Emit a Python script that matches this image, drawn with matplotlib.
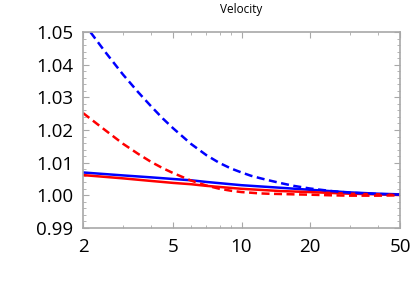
import matplotlib
matplotlib.use("Agg")
import matplotlib.pyplot as plt
from matplotlib.ticker import FixedLocator, MultipleLocator, NullFormatter

title = "Velocity"
x_ticks = [2, 5, 10, 20, 50]
x_tick_labels = ["2", "5", "10", "20", "50"]
y_ticks = [0.99, 1.00, 1.01, 1.02, 1.03, 1.04, 1.05]
y_tick_labels = ["0.99", "1.00", "1.01", "1.02", "1.03", "1.04", "1.05"]

x_dash = [2, 2.5, 3, 3.5, 4, 4.5, 5, 6, 7, 8, 9, 10, 11, 12, 13, 15, 17, 20, 25, 30, 40, 50]
blue_dashed = [1.0530, 1.0440, 1.0370, 1.0316, 1.0272, 1.0235, 1.0205, 1.0157, 1.0123, 1.0099,
               1.0082, 1.0070, 1.0060, 1.0053, 1.0047, 1.0037, 1.0029, 1.0021, 1.0013, 1.0008,
               1.0004, 1.0002]
red_dashed = [1.0252, 1.0200, 1.0158, 1.0127, 1.0102, 1.0083, 1.0068, 1.0045, 1.0030, 1.0020,
              1.0014, 1.0010, 1.0008, 1.0006, 1.0005, 1.0004, 1.0003, 1.0002, 1.0000, 0.9999,
              0.9999, 1.0000]

x_solid = [2, 3, 4, 5, 6, 7, 10, 15, 20, 30, 40, 50]
blue_solid = [1.0070, 1.0061, 1.0055, 1.0050, 1.0046, 1.0041, 1.0031, 1.0023, 1.0017, 1.0009,
              1.0005, 1.0003]
red_solid = [1.0062, 1.0052, 1.0044, 1.0038, 1.0034, 1.0029, 1.0020, 1.0013, 1.0010, 1.0005,
             1.0003, 1.0001]

plt.rcParams['font.family'] = ['Open Sans', 'DejaVu Sans']

fig = plt.figure(figsize=(4.15, 2.93), dpi=100)
ax = fig.add_axes([83/415, 1-228/293, 317/415, 196/293])

ax.plot(x_solid, blue_solid, color='#0000ff', lw=1.8, solid_capstyle='butt')
ax.plot(x_solid, red_solid, color='#ff0000', lw=1.8, solid_capstyle='butt')
ax.plot(x_dash, blue_dashed, color='#0000ff', lw=1.8, dashes=(3.2, 1.8))
ax.plot(x_dash, red_dashed, color='#ff0000', lw=1.8, dashes=(3.2, 1.8))

ax.set_xscale('log')
ax.set_xlim(2, 50)
ax.set_ylim(0.99, 1.05)

ax.xaxis.set_major_locator(FixedLocator(x_ticks))
ax.set_xticklabels(x_tick_labels)
ax.xaxis.set_minor_locator(FixedLocator([3, 4, 6, 7, 8, 9, 30, 40]))
ax.xaxis.set_minor_formatter(NullFormatter())
ax.yaxis.set_major_locator(FixedLocator(y_ticks))
ax.set_yticklabels(y_tick_labels)
ax.yaxis.set_minor_locator(MultipleLocator(0.002))

frame_color = '#a8a8a8'
for s in ax.spines.values():
    s.set_color(frame_color)
    s.set_linewidth(1.2)
ax.tick_params(which='both', direction='in', top=True, right=True, color=frame_color,
               labelsize=13.5, labelcolor='black')
ax.tick_params(which='major', length=4, width=0.8)
ax.tick_params(which='minor', length=2.2, width=0.6)
ax.tick_params(axis='x', pad=7)
ax.tick_params(axis='y', pad=7)

ax.set_title(title, fontsize=8.5, pad=14)

fig.savefig("out.png", dpi=100)
